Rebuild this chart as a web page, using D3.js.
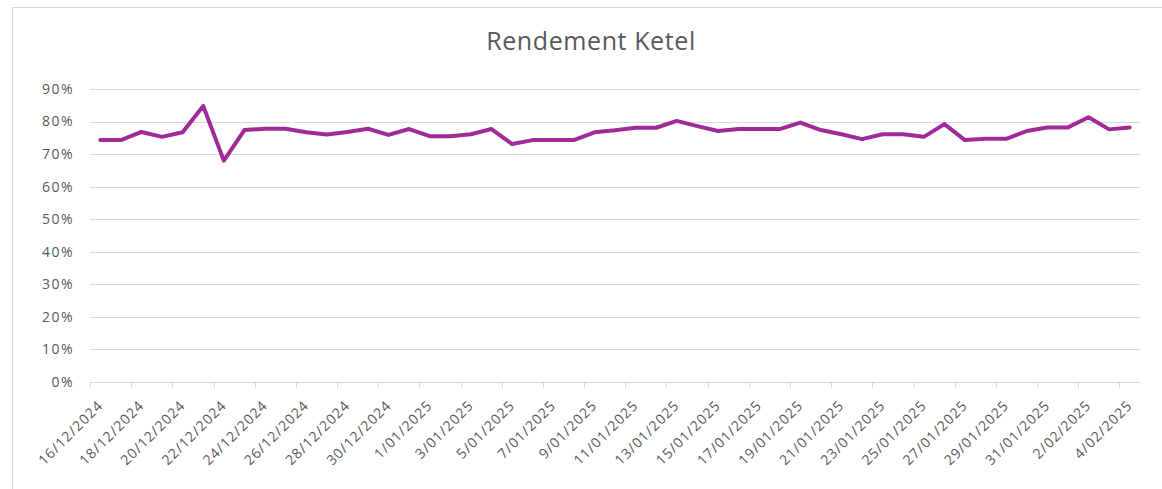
<!DOCTYPE html>
<html>
<head>
<meta charset="utf-8">
<script src="https://cdn.jsdelivr.net/npm/d3@7"></script>
<style>
  body { margin: 0; background: #fff; }
  text { font-family: "Open Sans", "Noto Sans", sans-serif; fill: #595959; }
</style>
</head>
<body>
<script>
    // Daily dates, 16/12/2024 .. 4/02/2025
    const dates = [
      "16/12/2024","17/12/2024","18/12/2024","19/12/2024","20/12/2024","21/12/2024","22/12/2024",
      "23/12/2024","24/12/2024","25/12/2024","26/12/2024","27/12/2024","28/12/2024","29/12/2024",
      "30/12/2024","31/12/2024","1/01/2025","2/01/2025","3/01/2025","4/01/2025","5/01/2025",
      "6/01/2025","7/01/2025","8/01/2025","9/01/2025","10/01/2025","11/01/2025","12/01/2025",
      "13/01/2025","14/01/2025","15/01/2025","16/01/2025","17/01/2025","18/01/2025","19/01/2025",
      "20/01/2025","21/01/2025","22/01/2025","23/01/2025","24/01/2025","25/01/2025","26/01/2025",
      "27/01/2025","28/01/2025","29/01/2025","30/01/2025","31/01/2025","1/02/2025","2/02/2025",
      "3/02/2025","4/02/2025"
    ];

    // Rendement values (fraction)
    const rendement = [
      0.743, 0.743, 0.768, 0.753, 0.767, 0.848, 0.680, 0.774, 0.778, 0.778,
      0.767, 0.760, 0.768, 0.778, 0.759, 0.777, 0.755, 0.755, 0.761, 0.777,
      0.731, 0.743, 0.743, 0.743, 0.767, 0.773, 0.781, 0.781, 0.802, 0.786,
      0.771, 0.777, 0.777, 0.777, 0.797, 0.774, 0.761, 0.746, 0.761, 0.761,
      0.753, 0.792, 0.743, 0.747, 0.747, 0.771, 0.782, 0.782, 0.813, 0.776,
      0.782
    ];

    const yTicks = [0, 0.1, 0.2, 0.3, 0.4, 0.5, 0.6, 0.7, 0.8, 0.9];

    const width = 1162;
    const height = 489;
    const margin = { left: 90, right: 22, top: 89, bottom: 107 };

    const svg = d3.select("body")
      .append("svg")
      .attr("width", width)
      .attr("height", height);

    // chart border (only top/left show in the crop)
    svg.append("rect")
      .attr("x", 12.5).attr("y", 7.5)
      .attr("width", width + 20).attr("height", height + 20)
      .attr("fill", "none")
      .attr("stroke", "#d9d9d9");

    // Title
    svg.append("text")
      .attr("x", 591)
      .attr("y", 50)
      .attr("text-anchor", "middle")
      .style("font-size", "25px")
      .style("letter-spacing", "0.6px")
      .text("Rendement Ketel");

    // Scales
    const x = d3.scaleBand()
      .domain(dates)
      .range([margin.left, width - margin.right]);

    const y = d3.scaleLinear()
      .domain([0, 0.9])
      .range([height - margin.bottom, margin.top]);

    // Gridlines
    svg.append("g")
      .selectAll("line")
      .data(yTicks)
      .enter()
      .append("line")
      .attr("x1", margin.left)
      .attr("x2", width - margin.right)
      .attr("y1", d => Math.round(y(d)) + 0.5)
      .attr("y2", d => Math.round(y(d)) + 0.5)
      .attr("stroke", "#d9d9d9")
      .attr("stroke-width", 1);

    // Y labels
    svg.append("g")
      .selectAll("text")
      .data(yTicks)
      .enter()
      .append("text")
      .attr("x", 74)
      .attr("y", d => y(d))
      .attr("dy", "0.35em")
      .attr("text-anchor", "end")
      .style("font-size", "14px")
      .style("letter-spacing", "1.5px")
      .text(d => d3.format(".0%")(d));

    // X tick marks every second category boundary
    const tickIdx = d3.range(0, dates.length + 1, 2);
    svg.append("g")
      .selectAll("line")
      .data(tickIdx)
      .enter()
      .append("line")
      .attr("x1", i => Math.round(margin.left + i * x.step()) + 0.5)
      .attr("x2", i => Math.round(margin.left + i * x.step()) + 0.5)
      .attr("y1", y(0))
      .attr("y2", y(0) + 6)
      .attr("stroke", "#d9d9d9");

    // X labels, every second date, rotated
    svg.append("g")
      .selectAll("text")
      .data(dates.filter((d, i) => i % 2 === 0))
      .enter()
      .append("text")
      .attr("transform", d => `translate(${x(d) + x.bandwidth() / 2},${y(0) + 21}) rotate(-45)`)
      .attr("text-anchor", "end")
      .attr("dy", "0.35em")
      .style("font-size", "14px")
      .style("letter-spacing", "1px")
      .text(d => d);

    // Line
    const line = d3.line()
      .x((d, i) => x(dates[i]) + x.bandwidth() / 2)
      .y(d => y(d));

    svg.append("path")
      .datum(rendement)
      .attr("d", line)
      .attr("fill", "none")
      .attr("stroke", "#a02b98")
      .attr("stroke-width", 4)
      .attr("stroke-linejoin", "round")
      .attr("stroke-linecap", "round");
</script>
</body>
</html>
